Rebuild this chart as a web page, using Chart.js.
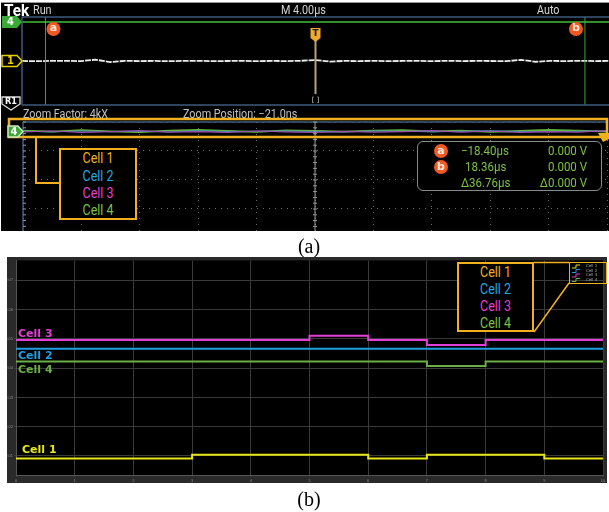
<!DOCTYPE html>
<html lang="en">
<head>
<meta charset="UTF-8">
<title>Cell voltage traces</title>
<script src="https://cdn.jsdelivr.net/npm/chart.js"></script>
<style>
  body { margin: 0; width: 609px; height: 512px; background: #fff; position: relative; overflow: hidden; }
  canvas { position: absolute; }
  #scopeA { position: absolute; left: 1px; top: 2px; width: 608px; height: 229px; background: #000; border-top: 1px solid #999; box-sizing: border-box; }
  #frameB { position: absolute; left: 7px; top: 257px; width: 600px; height: 226px; background: #2a2a2a; }
  .st { position: absolute; font-family: 'Liberation Sans Narrow', 'Roboto', sans-serif; color: #d4d4d4; white-space: nowrap; line-height: 1; transform: scaleX(0.9); transform-origin: left center; }
  .legend { position: absolute; border: 2px solid #f0b020; background: #000; box-sizing: border-box; }
  .legend div { position: absolute; left: 0; right: 0; text-align: center; font-family: 'Roboto', sans-serif; font-size: 14.5px; line-height: 17px; transform: scaleX(0.86); }
  .readout { position: absolute; left: 417px; top: 141px; width: 185px; height: 50px; border: 1.5px solid #8a8a8a; border-radius: 6px; background: #000; box-sizing: border-box; }
  .rd { position: absolute; font-family: 'Roboto', sans-serif; font-size: 12.5px; line-height: 14px; color: #7dc242; white-space: nowrap; transform: scaleX(0.92); transform-origin: left center; }
  .rd.r { transform-origin: right center; text-align: right; width: 70px; left: 517px; }
  .dot { position: absolute; width: 14px; height: 14px; border-radius: 50%; background: #f05a22; color: #ffe6da; font: bold 11px 'DejaVu Sans', sans-serif; line-height: 13px; text-align: center; }
  .lbl { position: absolute; font: bold 11px 'DejaVu Sans', sans-serif; line-height: 11px; white-space: nowrap; }
  .cap { position: absolute; left: 0; width: 618px; text-align: center; font: 20px 'Liberation Serif', 'DejaVu Serif', serif; line-height: 20px; color: #000; }
  .tiny { position: absolute; font: 4px 'DejaVu Sans', sans-serif; line-height: 4.5px; color: #aaa; }
</style>
</head>
<body>

<!-- (a) oscilloscope screen -->
<div id="scopeA"></div>
<canvas id="mainWin" width="609" height="110" style="left:0;top:3px"></canvas>
<canvas id="zoomWin" width="609" height="125" style="left:0;top:106px"></canvas>

<div class="st" style="left:4px;top:2px;font-size:17px;font-weight:bold;color:#fff">Tek</div>
<div class="st" style="left:33px;top:4px;font-size:12px">Run</div>
<div class="st" style="left:281px;top:4px;font-size:12px">M 4.00µs</div>
<div class="st" style="left:537px;top:4px;font-size:12px">Auto</div>
<div class="st" style="left:23px;top:108px;font-size:12px;color:#c0c0c0">Zoom Factor: 4kX</div>
<div class="st" style="left:183px;top:108px;font-size:12px;color:#c0c0c0">Zoom Position: −21.0ns</div>

<div class="legend" style="left:59px;top:148px;width:78px;height:72px">
  <div style="top:0;color:#f0b020">Cell 1</div>
  <div style="top:17.5px;color:#22a8e0">Cell 2</div>
  <div style="top:35px;color:#e93fd0">Cell 3</div>
  <div style="top:52px;color:#7cc143">Cell 4</div>
</div>

<div class="readout"></div>
<div class="dot" style="left:434px;top:144px">a</div>
<div class="dot" style="left:434px;top:160px">b</div>
<div class="rd" style="left:461px;top:144px">−18.40µs</div>
<div class="rd" style="left:465px;top:160px">18.36µs</div>
<div class="rd" style="left:461px;top:176px">Δ36.76µs</div>
<div class="rd r" style="top:144px">0.000 V</div>
<div class="rd r" style="top:160px">0.000 V</div>
<div class="rd r" style="top:176px">Δ0.000 V</div>

<div class="cap" style="top:236px">(a)</div>

<!-- (b) stepped cell traces -->
<div id="frameB"></div>
<canvas id="stepChart" width="600" height="226" style="left:7px;top:257px"></canvas>

<div class="lbl" style="left:18px;top:328px;color:#e23fd6">Cell 3</div>
<div class="lbl" style="left:18px;top:350px;color:#1e9fe0">Cell 2</div>
<div class="lbl" style="left:18px;top:364px;color:#6aae45">Cell 4</div>
<div class="lbl" style="left:22px;top:444px;color:#e6e619">Cell 1</div>

<div class="legend" style="left:457px;top:262px;width:77px;height:70px">
  <div style="top:0;color:#f0b020">Cell 1</div>
  <div style="top:17px;color:#22a8e0">Cell 2</div>
  <div style="top:34px;color:#e93fd0">Cell 3</div>
  <div style="top:51px;color:#7cc143">Cell 4</div>
</div>
<div style="position:absolute;left:569px;top:262px;width:38px;height:22px;border:1px solid #f0b020;box-sizing:border-box"></div>
<div class="tiny" style="left:586px;top:264px">Cell 1</div>
<div class="tiny" style="left:586px;top:268.5px">Cell 2</div>
<div class="tiny" style="left:586px;top:273px">Cell 3</div>
<div class="tiny" style="left:586px;top:277.5px">Cell 4</div>

<div class="cap" style="top:489px">(b)</div>

<script>
// ---- (a) main window: channel 1 trace, time in µs, level in divisions ----
const ch1Times = [-20, -19, -18, -17, -16, -15, -14, -13, -12, -11, -10, -9, -8, -7, -6, -5, -4, -3, -2, -1, 0,
                  1, 2, 3, 4, 5, 6, 7, 8, 9, 10, 11, 12, 13, 14, 15, 16, 17, 18, 19, 20];
const ch1Levels = [0.01, -0.02, 0.01, 0.02, -0.01, 0.12, -0.10, 0.02, -0.01, 0.01, -0.02, 0.01, 0.02, -0.01, 0.00, 0.02, -0.02, 0.01, -0.01, 0.02, 0.08,
                   -0.05, 0.01, -0.01, 0.02, -0.02, 0.01, 0.01, -0.02, 0.02, -0.01, 0.01, 0.00, -0.02, 0.10, -0.07, 0.01, -0.01, 0.02, -0.01, 0.01];
const ch4Level = 3.55;
const cursorTimes = [-18.40, 18.36];

// ---- (a) zoom window: time in ns, level in divisions ----
const zoomTimes = [-26, -25.5, -25, -24.5, -24, -23.5, -23, -22.5, -22, -21.5, -21,
                   -20.5, -20, -19.5, -19, -18.5, -18, -17.5, -17, -16.5, -16];
const zoomCell4 = [-0.30, -0.33, -0.28, -0.32, -0.35, -0.30, -0.27, -0.31, -0.34, -0.29, -0.31,
                   -0.33, -0.30, -0.28, -0.32, -0.30, -0.34, -0.31, -0.27, -0.30, -0.33];
const zoomCell3 = [-0.34, -0.31, -0.36, -0.33, -0.30, -0.35, -0.33, -0.36, -0.31, -0.34, -0.36,
                   -0.32, -0.35, -0.33, -0.30, -0.35, -0.31, -0.36, -0.33, -0.35, -0.30];
const zoomCell2 = [-0.32, -0.34, -0.31, -0.33, -0.32, -0.34, -0.30, -0.33, -0.32, -0.31, -0.33,
                   -0.34, -0.31, -0.32, -0.34, -0.32, -0.30, -0.33, -0.34, -0.32, -0.31];

// ---- (b) stepped cell voltages ----
const stepTimes = [0, 3, 5, 6, 7, 8, 9, 10];
const cell1 = [0.0091, 0.0104, 0.0104, 0.0091, 0.0104, 0.0104, 0.0091, 0.0091];
const cell2 = [0.0466, 0.0466, 0.0466, 0.0466, 0.0466, 0.0466, 0.0466, 0.0466];
const cell3 = [0.0496, 0.0496, 0.0511, 0.0496, 0.0479, 0.0496, 0.0496, 0.0496];
const cell4 = [0.0423, 0.0423, 0.0423, 0.0423, 0.0407, 0.0423, 0.0423, 0.0423];
const yTicks = [0.01, 0.02, 0.03, 0.04, 0.05, 0.06, 0.07];

const blueGray = '#3c5a7e';
const gold = '#f0b020';

function pairs(xs, ys) {
    return xs.map((x, i) => ({ x: x, y: ys[i] }));
}

// channel marker shaped like a tag pointing right
function tagRight(ctx, x, y, w, h, fill, stroke, label, color) {
    ctx.beginPath();
    ctx.moveTo(x, y - h / 2);
    ctx.lineTo(x + w - 5, y - h / 2);
    ctx.lineTo(x + w, y);
    ctx.lineTo(x + w - 5, y + h / 2);
    ctx.lineTo(x, y + h / 2);
    ctx.closePath();
    ctx.fillStyle = fill;
    ctx.fill();
    if (stroke) {
        ctx.strokeStyle = stroke;
        ctx.lineWidth = 1.5;
        ctx.stroke();
    }
    ctx.fillStyle = color;
    ctx.font = 'bold 11px "DejaVu Sans Condensed", "DejaVu Sans", sans-serif';
    ctx.textAlign = 'center';
    ctx.textBaseline = 'middle';
    ctx.fillText(label, x + (w - 5) / 2 + 1, y + 0.5);
}

const hidden = { display: false };

// main acquisition window
new Chart(document.getElementById('mainWin'), {
    type: 'line',
    data: {
        datasets: [
            { data: pairs([-20, 20], [ch4Level, ch4Level]), borderColor: '#3fbf3a', borderWidth: 1.5 },
            { data: pairs([cursorTimes[0], cursorTimes[0]], [-4, 4]), borderColor: '#3aa935', borderWidth: 1 },
            { data: pairs([cursorTimes[1], cursorTimes[1]], [-4, 4]), borderColor: '#3aa935', borderWidth: 1 },
            { data: pairs(ch1Times, ch1Levels), borderColor: '#ececec', borderWidth: 1.8, borderDash: [6, 1] }
        ]
    },
    options: {
        responsive: false,
        animation: false,
        elements: { point: { radius: 0 } },
        layout: { padding: { left: 22, top: 14, right: 0, bottom: 8 } },
        plugins: { legend: hidden, tooltip: { enabled: false } },
        scales: {
            x: { type: 'linear', min: -20, max: 20, display: false },
            y: { type: 'linear', min: -4, max: 4, display: false }
        }
    },
    plugins: [{
        id: 'mainDecor',
        afterDraw(chart) {
            const { ctx, chartArea: a, scales } = chart;
            ctx.save();
            ctx.strokeStyle = blueGray;
            ctx.lineWidth = 1.5;
            ctx.beginPath();
            ctx.moveTo(a.left, a.top); ctx.lineTo(a.right, a.top);
            ctx.moveTo(a.left, a.bottom); ctx.lineTo(a.right, a.bottom);
            ctx.moveTo(a.left, a.top); ctx.lineTo(a.left, a.bottom);
            ctx.stroke();

            tagRight(ctx, 2, scales.y.getPixelForValue(ch4Level), 20, 12, '#3aa935', null, '4', '#fff');
            tagRight(ctx, 2, scales.y.getPixelForValue(0), 20, 11, '#000', '#e8d000', '1', '#e8d000');

            // R1 reference marker
            ctx.beginPath();
            ctx.moveTo(2, 94); ctx.lineTo(20, 94); ctx.lineTo(20, 101); ctx.lineTo(11, 107); ctx.lineTo(2, 101);
            ctx.closePath();
            ctx.fillStyle = '#000'; ctx.fill();
            ctx.strokeStyle = '#ddd'; ctx.lineWidth = 1.3; ctx.stroke();
            ctx.fillStyle = '#fff';
            ctx.font = 'bold 9px "DejaVu Sans Condensed", "DejaVu Sans", sans-serif';
            ctx.textAlign = 'center'; ctx.textBaseline = 'middle';
            ctx.fillText('R1', 11, 99);

            // trigger marker
            const tx = scales.x.getPixelForValue(0);
            ctx.strokeStyle = '#b5a27a'; ctx.lineWidth = 2;
            ctx.beginPath(); ctx.moveTo(tx, 38); ctx.lineTo(tx, 91); ctx.stroke();
            ctx.fillStyle = '#f0a830';
            ctx.beginPath();
            ctx.moveTo(tx - 5, 25); ctx.lineTo(tx + 5, 25); ctx.lineTo(tx + 5, 35);
            ctx.lineTo(tx, 39); ctx.lineTo(tx - 5, 35); ctx.closePath(); ctx.fill();
            ctx.fillStyle = '#222';
            ctx.font = 'bold 9px "DejaVu Sans", sans-serif';
            ctx.fillText('T', tx, 30.5);
            ctx.fillStyle = '#ccc';
            ctx.font = '7px "DejaVu Sans", sans-serif';
            ctx.fillText('[ ]', tx, 97);

            // cursor labels
            ['a', 'b'].forEach((name, i) => {
                const cx = scales.x.getPixelForValue(cursorTimes[i]) + (i === 0 ? 8 : -9);
                ctx.fillStyle = '#f05a22';
                ctx.beginPath(); ctx.arc(cx, 26, 7, 0, Math.PI * 2); ctx.fill();
                ctx.fillStyle = '#ffe6da';
                ctx.font = 'bold 11px "DejaVu Sans", sans-serif';
                ctx.fillText(name, cx, 25.5);
            });
            ctx.restore();
        }
    }]
});

// zoom window
const dotted = { color: '#6a6a6a', lineWidth: 1, drawTicks: false };
new Chart(document.getElementById('zoomWin'), {
    type: 'line',
    data: {
        datasets: [
            { data: pairs(zoomTimes, zoomCell3), borderColor: '#9a4fb0', borderWidth: 1.2 },
            { data: pairs(zoomTimes, zoomCell2), borderColor: '#3a8fc0', borderWidth: 1 },
            { data: pairs(zoomTimes, zoomCell4), borderColor: '#5fb83a', borderWidth: 1.8 }
        ]
    },
    options: {
        responsive: false,
        animation: false,
        elements: { point: { radius: 0 } },
        layout: { padding: { left: 23, top: 16, right: 2, bottom: 0 } },
        plugins: { legend: hidden, tooltip: { enabled: false } },
        scales: {
            x: {
                type: 'linear', min: -26, max: -16,
                ticks: { display: false, stepSize: 1 },
                grid: dotted,
                border: { display: false, dash: [1, 5] },
                afterFit(s) { s.height = 0; }
            },
            y: {
                type: 'linear', min: -3.76, max: 0,
                afterBuildTicks(s) { s.ticks = [0, -1, -2, -3].map(v => ({ value: v })); },
                ticks: { display: false },
                grid: dotted,
                border: { display: false, dash: [1, 5] },
                afterFit(s) { s.width = 0; }
            }
        }
    },
    plugins: [{
        id: 'zoomDecor',
        afterDraw(chart) {
            const { ctx, chartArea: a, scales } = chart;
            ctx.save();
            ctx.strokeStyle = blueGray;
            ctx.lineWidth = 1.5;
            ctx.beginPath();
            ctx.moveTo(a.left, a.top); ctx.lineTo(a.right, a.top);
            ctx.moveTo(a.left, a.top); ctx.lineTo(a.left, a.bottom);
            ctx.stroke();

            // minor ticks on the centre line
            const cx = scales.x.getPixelForValue(-21);
            ctx.strokeStyle = '#9a9a9a';
            ctx.lineWidth = 1;
            ctx.beginPath();
            ctx.moveTo(cx, a.top); ctx.lineTo(cx, a.bottom);
            for (let y = a.top; y < a.bottom; y += 5.8) {
                ctx.moveTo(cx - 2, y); ctx.lineTo(cx + 2, y);
                ctx.moveTo(a.left, y); ctx.lineTo(a.left + 3, y);
            }
            ctx.stroke();

            // zoom box and connector to the legend
            ctx.strokeStyle = gold;
            ctx.lineWidth = 2.5;
            ctx.strokeRect(9, 13, 598, 18);
            ctx.lineWidth = 2;
            ctx.beginPath();
            ctx.moveTo(36, 31); ctx.lineTo(36, 77); ctx.lineTo(59, 77);
            ctx.stroke();

            tagRight(ctx, 8, 25.5, 15, 11, '#3aa935', '#cfe8c0', '4', '#fff');

            ctx.fillStyle = gold;
            ctx.beginPath();
            ctx.moveTo(598, 27); ctx.lineTo(609, 27); ctx.lineTo(609, 33); ctx.lineTo(603, 36); ctx.closePath();
            ctx.fill();
            ctx.restore();
        }
    }]
});

// (b) stepped traces
function stepSet(label, values, color) {
    return { label: label, data: pairs(stepTimes, values), borderColor: color, borderWidth: 2, stepped: 'before' };
}
const gridB = { color: '#3a3a3a', lineWidth: 1, tickLength: 2 };
new Chart(document.getElementById('stepChart'), {
    type: 'line',
    data: {
        datasets: [
            stepSet('Cell 4', cell4, '#6aae45'),
            stepSet('Cell 2', cell2, '#1e9fe0'),
            stepSet('Cell 3', cell3, '#e23fd6'),
            stepSet('Cell 1', cell1, '#e6e619')
        ]
    },
    options: {
        responsive: false,
        animation: false,
        elements: { point: { radius: 0 } },
        layout: { padding: { left: 0, top: 2, right: 4, bottom: 0 } },
        plugins: { legend: hidden, tooltip: { enabled: false } },
        scales: {
            x: {
                type: 'linear', min: 0, max: 10,
                ticks: { stepSize: 1, color: '#888', font: { size: 4 }, padding: 1, maxRotation: 0 },
                grid: gridB,
                border: { color: '#555' },
                afterFit(s) { s.height = 8; }
            },
            y: {
                type: 'linear', min: 0.0035, max: 0.0768,
                afterBuildTicks(s) { s.ticks = yTicks.map(v => ({ value: v })); },
                ticks: { color: '#888', font: { size: 4 }, padding: 1, callback: v => v.toFixed(2) },
                grid: gridB,
                border: { color: '#555' },
                afterFit(s) { s.width = 9; }
            }
        }
    },
    plugins: [{
        id: 'stepDecor',
        beforeDraw(chart) {
            const { ctx, chartArea: a } = chart;
            ctx.save();
            ctx.fillStyle = '#000';
            ctx.fillRect(a.left, a.top, a.right - a.left, a.bottom - a.top);
            ctx.restore();
        },
        afterDraw(chart) {
            const ctx = chart.ctx;
            ctx.save();
            ctx.strokeStyle = gold;
            ctx.lineWidth = 1.5;
            ctx.beginPath();
            ctx.moveTo(527, 5.5); ctx.lineTo(562, 5.5);
            ctx.moveTo(527, 75); ctx.lineTo(562, 26);
            ctx.stroke();
            // little legend swatches
            const cols = ['#e6e619', '#1e9fe0', '#e23fd6', '#6aae45'];
            ctx.lineWidth = 1;
            cols.forEach((c, i) => {
                const y = 9.5 + i * 4.5;
                ctx.strokeStyle = c;
                ctx.beginPath();
                ctx.moveTo(565, y + 1.5); ctx.lineTo(569, y + 1.5); ctx.lineTo(569, y - 1.5); ctx.lineTo(573, y - 1.5);
                ctx.stroke();
            });
            ctx.restore();
        }
    }]
});
</script>
</body>
</html>
